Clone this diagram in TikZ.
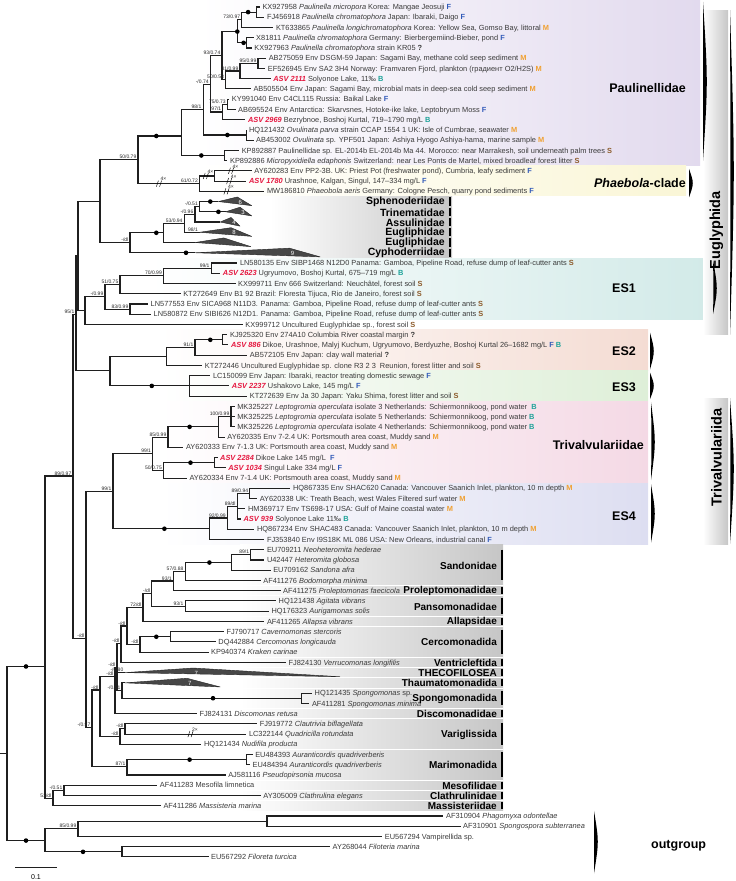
\documentclass[tikz,border=0pt]{standalone}
\usepackage{fontspec}
\setmainfont{Liberation Sans}
\definecolor{cF}{HTML}{3059B8}
\definecolor{cM}{HTML}{F0A030}
\definecolor{cB}{HTML}{1FA39A}
\definecolor{cS}{HTML}{8C5A2A}
\definecolor{asvc}{HTML}{E5173F}
\definecolor{paulbg}{HTML}{E2DAEE}
\definecolor{phaebg}{HTML}{FAF6D6}
\definecolor{es1bg}{HTML}{D2EAE8}
\definecolor{es2bg}{HTML}{F4DCD3}
\definecolor{es3bg}{HTML}{DEEFD8}
\definecolor{trivbg}{HTML}{F4D9E5}
\definecolor{es4bg}{HTML}{DDDEF1}
\definecolor{grayc}{HTML}{C6C6C6}
\definecolor{acc}{HTML}{3A3A3A}
\newcommand\hF{\textcolor{cF}{\textbf{F}}}
\newcommand\hM{\textcolor{cM}{\textbf{M}}}
\newcommand\hB{\textcolor{cB}{\textbf{B}}}
\newcommand\hS{\textcolor{cS}{\textbf{S}}}
\newcommand\hQ{\textbf{?}}
\newcommand\asv[1]{\textcolor{asvc}{\textbf{\textit{ASV #1}}}}
\newcommand\leaf[4]{\coordinate (l#1) at (#2,#3); \node[leaf] (t#1) at (#2+2.5,#3+0.26) {#4};}
\newcommand\inn[3]{\coordinate (#1) at (#2,#3);}
\newcommand\edg[2]{\draw[br] (#1) |- (#2);}
\newcommand\dt[3]{\node[dotn] (#1) at (#2,#3) {};}
\newcommand\bsl[2]{\path (#1) ++(-1.5,-0.07) node[bs] (b#1) {#2};}
\newcommand\wbar[5]{\fill[black] (#2,#3) .. controls (#2+5,#4) .. (#2,#5) .. controls (#2+0.6,#4) .. (#2,#3) -- cycle; \coordinate (#1) at (#2,#4);}
\newcommand\trifill[6]{\fill[tri] (#1) -- (#3,#2-0.45) -- (#4,#2+0.4) -- cycle; \node[trin] (n#1) at (#3+3,#2+0.05) {#5#6};}
\newcommand\brk[4]{\draw[line width=0.45pt] (#2-2.6,#3+0.3) -- (#2-0.6,#3-0.3) (#2+0.6,#3+0.3) -- (#2+2.6,#3-0.3); \node[bs,anchor=south west] (#1) at (#2+1.5,#3-0.25) {#4};}
\begin{document}
\begin{tikzpicture}[x=1pt,y=-10.24pt,
  br/.style={draw=black!88, line width=1.1pt},
  leaf/.style={anchor=base west, inner sep=0pt, font=\fontsize{7.4}{8}\selectfont, text=acc},
  bs/.style={anchor=south east, inner sep=0pt, font=\fontsize{5}{5}\selectfont, text=black!85},
  dotn/.style={circle, fill=black, inner sep=0pt, minimum size=4.6pt},
  tri/.style={fill=black!72, draw=black!85, line width=0.4pt, line join=round},
  trin/.style={text=white, font=\fontsize{6}{6}\selectfont, inner sep=0pt},
  grp/.style={anchor=east, inner sep=0pt, font=\fontsize{10}{11}\selectfont\bfseries},
  grpb/.style={anchor=east, inner sep=0pt, font=\fontsize{10.5}{11}\selectfont\bfseries},
  big/.style={inner sep=0pt, font=\fontsize{12.5}{13}\selectfont\bfseries},
  gbar/.style={line width=1.6pt},
  sep/.style={draw=white, line width=0.8pt}]
\useasboundingbox (0,0.3164) rectangle (735,86.35);
% ---------- backgrounds
\shade[left color=white,right color=paulbg] (200,0.32) rectangle (700,16.45);
\shade[left color=white,right color=phaebg] (200,16.5) rectangle (686,19.45);
\shade[left color=white,right color=grayc] (270,19.5) rectangle (452,25.5);
\shade[left color=white,right color=es1bg] (150,25.55) rectangle (711,31.5);
\shade[left color=white,right color=es2bg] (160,32.5) rectangle (648,36.45);
\shade[left color=white,right color=es3bg] (160,36.5) rectangle (648,39.45);
\shade[left color=white,right color=trivbg] (160,39.5) rectangle (648,47.45);
\shade[left color=white,right color=es4bg] (160,47.5) rectangle (648,53.45);
\shade[left color=white,right color=grayc] (240,53.5) rectangle (503,79.5);
\foreach \s in {57.5,58.5,60.5,61.5,64.5,65.5,66.5,67.5,69.5,70.5,73.5,76.5,77.5,78.5}{\draw[sep] (240,\s) -- (503,\s);}
\shade[left color=white,right color=grayc] (703,1.3) rectangle (728,33);
\shade[left color=white,right color=grayc] (703,39.2) rectangle (728,53.5);
% ---------- bars
\wbar{bPaul}{703}{0.5}{8.3}{16}
\wbar{bPhae}{689}{16.8}{18.2}{19.6}
\wbar{bEug}{730}{1.3}{17}{33}
\wbar{bES1}{713}{25.7}{28.5}{31}
\wbar{bES2}{650}{32.8}{34.6}{36.4}
\wbar{bES3}{650}{36.7}{38}{39.3}
\wbar{bTriv}{651}{39.6}{43.5}{47.2}
\wbar{bES4}{651}{47.6}{50.5}{53.3}
\wbar{bTrivida}{730}{39.2}{46}{53.4}
\wbar{bOut}{594}{79.5}{82.5}{85.6}
\foreach \r in {20,...,25}{\draw[gbar] (450,\r-0.4) -- (450,\r+0.4);}
\foreach \a/\b in {54/57,57.65/58.35,58.7/60.3,60.65/61.35,61.8/64.2,64.65/65.35,65.65/66.35,66.65/67.35,67.8/69.2,69.65/70.35,70.9/73.1,73.8/76.2,76.65/77.35,77.65/78.35,78.65/79.35}{\draw[gbar] (502,\a) -- (502,\b);}
% ---------- leaves
\leaf{1}{259.8}{1}{KX927958 \textit{Paulinella micropora} Korea: Mangae Jeosuji \hF}
\leaf{2}{264.3}{2}{FJ456918 \textit{Paulinella chromatophora} Japan: Ibaraki, Daigo \hF}
\leaf{3}{273.3}{3}{KT633865 \textit{Paulinella longichromatophora} Korea: Yellow Sea, Gomso Bay, littoral \hM}
\leaf{4}{253.5}{4}{X81811 \textit{Paulinella chromatophora} Germany: Bierbergemiind-Bieber, pond \hF}
\leaf{5}{251.7}{5}{KX927963 \textit{Paulinella chromatophora} strain KR05 \hQ}
\leaf{6}{266.1}{6}{AB275059 Env DSGM-59 Japan: Sagami Bay, methane cold seep sediment \hM}
\leaf{7}{265.2}{7}{EF526945 Env SA2 3H4 Norway: Framvaren Fjord, plankton (градиент O2/H2S) \hM}
\leaf{8}{270.6}{8}{\asv{2111} Solyonoe Lake, 11‰ \hB}
\leaf{9}{250.8}{9}{AB505504 Env Japan: Sagami Bay, microbial mats in deep-sea cold seep sediment \hM}
\leaf{10}{229.2}{10}{KY991040 Env C4CL115 Russia: Baikal Lake \hF}
\leaf{11}{235.5}{11}{AB695524 Env Antarctica: Skarvsnes, Hotoke-ike lake, Leptobryum Moss \hF}
\leaf{12}{245.4}{12}{\asv{2969} Bezrybnoe, Boshoj Kurtal, 719–1790 mg/L \hB}
\leaf{13}{246.3}{13}{HQ121432 \textit{Ovulinata parva} strain CCAP 1554 1 UK: Isle of Cumbrae, seawater \hM}
\leaf{14}{253.5}{14}{AB453002 \textit{Ovulinata} sp. YPF501 Japan: Ashiya Hyogo Ashiya-hama, marine sample \hM}
\leaf{15}{239.1}{15}{KP892887 Paulinellidae sp. EL-2014b EL-2014b Ma 44. Morocco: near Marrakesh, soil underneath palm trees \hS}
\leaf{16}{227.4}{16}{KP892886 \textit{Micropyxidiella edaphonis} Switzerland: near Les Ponts de Martel, mixed broadleaf forest litter \hS}
\leaf{17}{251.7}{17}{AY620283 Env PP2-3B. UK: Priest Pot (freshwater pond), Cumbria, leafy sediment \hF}
\leaf{18}{246.3}{18}{\asv{1780} Urashnoe, Kalgan, Singul, 147–334 mg/L \hF}
\leaf{19}{264.3}{19}{MW186810 \textit{Phaeobola aeris} Germany: Cologne Pesch, quarry pond sediments \hF}
\leaf{26}{237.3}{26}{LN580135 Env SIBP1468 N12D0 Panama: Gamboa, Pipeline Road, refuse dump of leaf-cutter ants \hS}
\leaf{27}{220.2}{27}{\asv{2623} Ugryumovo, Boshoj Kurtal, 675–719 mg/L \hB}
\leaf{28}{235.5}{28}{KX999711 Env 666 Switzerland: Neuchâtel, forest soil \hS}
\leaf{29}{180.6}{29}{KT272649 Env B1 92 Brazil: Floresta Tijuca, Rio de Janeiro, forest soil \hS}
\leaf{30}{148}{30}{LN577553 Env SICA968 N11D3. Panama: Gamboa, Pipeline Road, refuse dump of leaf-cutter ants \hS}
\leaf{31}{151}{31}{LN580872 Env SIBI626 N12D1. Panama: Gamboa, Pipeline Road, refuse dump of leaf-cutter ants \hS}
\leaf{32}{242.7}{32}{KX999712 Uncultured Euglyphidae sp., forest soil \hS}
\leaf{33}{227.4}{33}{KJ925320 Env 274A10 Columbia River coastal margin \hQ}
\leaf{34}{228.3}{34}{\asv{886} Dikoe, Urashnoe, Malyj Kuchum, Ugryumovo, Berdyuzhe, Boshoj Kurtal 26–1682 mg/L \hF\ \hB}
\leaf{35}{247.2}{35}{AB572105 Env Japan: clay wall material \hQ}
\leaf{36}{202.2}{36}{KT272446 Uncultured Euglyphidae sp. clone R3 2 3 \ Reunion, forest litter and soil \hS}
\leaf{37}{210.3}{37}{LC150099 Env Japan: Ibaraki, reactor treating domestic sewage \hF}
\leaf{38}{229.2}{38}{\asv{2237} Ushakovo Lake, 145 mg/L \hF}
\leaf{39}{247.2}{39}{KT272639 Env Ja 30 Japan: Yaku Shima, forest litter and soil \hS}
\leaf{40}{234.6}{40}{MK325227 \textit{Leptogromia operculata} isolate 3 Netherlands: Schiermonnikoog, pond water \ \hB}
\leaf{41}{234.6}{41}{MK325225 \textit{Leptogromia operculata} isolate 5 Netherlands: Schiermonnikoog, pond water \hB}
\leaf{42}{234.6}{42}{MK325226 \textit{Leptogromia operculata} isolate 4 Netherlands: Schiermonnikoog, pond water \hB}
\leaf{43}{224.7}{43}{AY620335 Env 7-2.4 UK: Portsmouth area coast, Muddy sand \hM}
\leaf{44}{183.3}{44}{AY620333 Env 7-1.3 UK: Portsmouth area coast, Muddy sand \hM}
\leaf{45}{217.5}{45}{\asv{2284} Dikoe Lake 145 mg/L \ \hF}
\leaf{46}{225.6}{46}{\asv{1034} Singul Lake 334 mg/L \hF}
\leaf{47}{186.9}{47}{AY620334 Env 7-1.4 UK: Portsmouth area coast, Muddy sand \hM}
\leaf{48}{290.4}{48}{HQ867335 Env SHAC620 Canada: Vancouver Saanich Inlet, plankton, 10 m depth \hM}
\leaf{49}{257.1}{49}{AY620338 UK: Treath Beach, west Wales Filtered surf water \hM}
\leaf{50}{245.4}{50}{HM369717 Env TS698-17 USA: Gulf of Maine coastal water \hM}
\leaf{51}{240.9}{51}{\asv{939} Solyonoe Lake 11‰ \hB}
\leaf{52}{254.4}{52}{HQ867234 Env SHAC483 Canada: Vancouver Saanich Inlet, plankton, 10 m depth \hM}
\leaf{53}{264.3}{53}{FJ353840 Env I9S18K ML 086 USA: New Orleans, industrial canal \hF}
\leaf{54}{264.3}{54}{EU709211 \textit{Neoheteromita hederae}}
\leaf{55}{264.3}{55}{U42447 \textit{Heteromita globosa}}
\leaf{56}{270.6}{56}{EU709162 \textit{Sandona afra}}
\leaf{57}{260.7}{57}{AF411276 \textit{Bodomorpha minima}}
\leaf{58}{280.5}{58}{AF411275 \textit{Proleptomonas faecicola}}
\leaf{59}{276}{59}{HQ121438 \textit{Agitata vibrans}}
\leaf{60}{268.8}{60}{HQ176323 \textit{Aurigamonas solis}}
\leaf{61}{264.3}{61}{AF411265 \textit{Allapsa vibrans}}
\leaf{62}{223.8}{62}{FJ790717 \textit{Cavernomonas stercoris}}
\leaf{63}{215.7}{63}{DQ442884 \textit{Cercomonas longicauda}}
\leaf{64}{208.5}{64}{KP940374 \textit{Kraken carinae}}
\leaf{65}{285.9}{65}{FJ824130 \textit{Verrucomonas longifilis}}
\leaf{68}{312}{68}{HQ121435 \textit{Spongomonas} sp.}
\leaf{69}{309.3}{69}{AF411281 \textit{Spongomonas minima}}
\leaf{70}{196.8}{70}{FJ824131 \textit{Discomonas retusa}}
\leaf{71}{257.1}{71}{FJ919772 \textit{Clautrivia biflagellata}}
\leaf{72}{246.3}{72}{LC322144 \textit{Quadricilla rotundata}}
\leaf{73}{201.3}{73}{HQ121434 \textit{Nudifila producta}}
\leaf{74}{252.6}{74}{EU484393 \textit{Auranticordis quadriverberis}}
\leaf{75}{249.9}{75}{EU484394 \textit{Auranticordis quadriverberis}}
\leaf{76}{225.6}{76}{AJ581116 \textit{Pseudopirsonia mucosa}}
\leaf{77}{157.2}{77}{AF411283 Mesofila limnetica}
\leaf{78}{260.7}{78}{AY305009 \textit{Clathrulina elegans}}
\leaf{79}{160.8}{79}{AF411286 \textit{Massisteria marina}}
\leaf{80}{443.4}{80}{AF310904 \textit{Phagomyxa odontellae}}
\leaf{81}{460.5}{81}{AF310901 \textit{Spongospora subterranea}}
\leaf{82}{382.2}{82}{EU567294 Vampirellida sp.}
\leaf{83}{330}{83}{AY268044 \textit{Filoteria marina}}
\leaf{84}{208.5}{84}{EU567292 \textit{Filoreta turcica}}
% ---------- internal nodes
\inn{rstub}{0}{73.9}\inn{root}{7}{73.9}
\inn{In}{45}{65.4}\inn{Out}{45}{82.4}
\inn{O1}{78}{81.25}\inn{O2}{122}{83.5}\inn{PS}{267}{80.5}
\inn{M}{53}{78.25}\inn{M1}{64}{77.5}
\inn{A}{73}{46.8}\inn{B}{86}{62.7}
\inn{T}{113}{48.3}\inn{T1}{152.7}{44.6}\inn{T2}{168}{43}\inn{T3}{163.5}{46.25}
\inn{LGa}{218.4}{42}\inn{LG}{231}{41}\inn{T3a}{214.8}{45.5}
\inn{E4a}{209.4}{51.95}\inn{E4c}{227.4}{50.9}\inn{E4d}{237.3}{49.75}\inn{E4e}{249.9}{48.5}
\inn{C}{92}{71.4}\inn{Ma}{127}{75.2}\inn{Au}{246.3}{74.5}
\inn{D}{100}{67.7}\inn{V}{120}{72.25}\inn{V1}{125}{71.5}
\inn{F}{115}{66.4}\inn{G}{117}{65.5}\inn{THa}{125}{66}\inn{TS}{122}{67.75}\inn{THu}{125}{67}\inn{Spn}{301.2}{68.5}
\inn{S8}{121}{63.2}\inn{S7}{127}{61.45}\inn{CercP}{140}{63.25}\inn{Cerc}{170.7}{62.5}
\inn{S6}{143}{59.65}\inn{S5}{151.8}{58.3}\inn{S4}{173.4}{57.05}\inn{S3}{185.1}{56.1}\inn{S2}{231.9}{55.25}\inn{S1}{250.8}{54.5}\inn{P1}{185.1}{59.5}
\inn{G4}{76}{31}\inn{G3}{78}{25.3}\inn{G2}{100}{19.95}\inn{ESA}{85}{30.6}
\inn{ES1e}{105}{29.3}\inn{ES1c}{120}{28.1}\inn{ES1d}{130}{30.5}\inn{ES1b}{163.5}{27.25}\inn{ES1a}{211.2}{26.5}
\inn{G1}{138}{15.9}\inn{NPaul}{181.5}{13.6}\inn{N98}{203.1}{11}\inn{KPg}{224.7}{15.5}
\inn{N074}{210.3}{8.6}\inn{Ovu}{246.3}{13.5}\inn{Pe}{222}{5.75}\inn{Baik2}{222.9}{11.25}\inn{Baik1}{227.4}{10.5}
\inn{Pd}{237.3}{3.4}\inn{Pb}{241.8}{2.25}\inn{Pa}{256.2}{1.5}\inn{Pc}{246.3}{4.5}
\inn{Seep3}{225.6}{8.1}\inn{Seep2}{240}{7.25}\inn{Seep1}{258}{6.5}
\inn{Ph2}{199.5}{18.25}\inn{Ph1}{214.8}{17.5}
\inn{Q5}{130}{24}\inn{Q4}{163.5}{23.05}\inn{Q3}{184.2}{22.1}\inn{Q2}{195}{21.25}\inn{Q1}{199.5}{20.5}
\inn{Sp}{218.4}{20}\inn{Tr}{225.6}{21}\inn{As}{220.2}{22}\inn{Eg1}{199.5}{23}\inn{Eg2}{195}{24}\inn{Cyp}{195}{25}
\inn{ES23}{110}{36.5}\inn{ES2c}{166.2}{35.1}\inn{ES2b}{195}{34.25}\inn{ES2a}{222.9}{33.5}\inn{ES3n}{189.6}{38}
% ---------- edges
\draw[br] (rstub) -- (root);
\edg{root}{In}\edg{root}{Out}
\edg{In}{A}\edg{In}{M}
\edg{Out}{O1}\edg{Out}{O2}
\edg{O1}{PS}\edg{O1}{l82}\edg{PS}{l80}\edg{PS}{l81}
\edg{O2}{l83}\edg{O2}{l84}
\edg{M}{M1}\edg{M}{l79}\edg{M1}{l77}\edg{M1}{l78}
\edg{A}{G4}\edg{A}{B}
\edg{B}{T}\edg{B}{C}
\edg{T}{T1}\edg{T}{E4a}
\edg{T1}{T2}\edg{T1}{T3}
\edg{T2}{LGa}\edg{T2}{l44}
\edg{LGa}{LG}\edg{LGa}{l43}
\edg{LG}{l40}\edg{LG}{l41}\edg{LG}{l42}
\edg{T3}{T3a}\edg{T3}{l47}\edg{T3a}{l45}\edg{T3a}{l46}
\edg{E4a}{E4c}\edg{E4a}{l53}
\edg{E4c}{E4d}\edg{E4c}{l52}
\edg{E4d}{E4e}\edg{E4d}{l50}\edg{E4d}{l51}
\edg{E4e}{l48}\edg{E4e}{l49}
\edg{C}{D}\edg{C}{Ma}
\edg{Ma}{Au}\edg{Ma}{l76}\edg{Au}{l74}\edg{Au}{l75}
\edg{D}{F}\edg{D}{V}
\edg{V}{V1}\edg{V}{l73}\edg{V1}{l71}\edg{V1}{l72}
\edg{F}{G}\edg{F}{l70}
\edg{G}{S8}\edg{G}{THa}\edg{G}{TS}
\edg{TS}{THu}\edg{TS}{Spn}\edg{Spn}{l68}\edg{Spn}{l69}
\edg{S8}{S7}\edg{S8}{l65}
\edg{S7}{S6}\edg{S7}{CercP}
\edg{CercP}{Cerc}\edg{CercP}{l64}\edg{Cerc}{l62}\edg{Cerc}{l63}
\edg{S6}{S5}\edg{S6}{l61}
\edg{S5}{S4}\edg{S5}{P1}
\edg{S4}{S3}\edg{S4}{l58}
\edg{S3}{S2}\edg{S3}{l57}
\edg{S2}{S1}\edg{S2}{l56}
\edg{S1}{l54}\edg{S1}{l55}
\edg{P1}{l59}\edg{P1}{l60}
\edg{G4}{G3}\edg{G4}{ES23}
\edg{G3}{G2}\edg{G3}{ESA}
\edg{ESA}{ES1e}\edg{ESA}{l32}
\edg{ES1e}{ES1c}\edg{ES1e}{ES1d}
\edg{ES1c}{ES1b}\edg{ES1c}{l29}
\edg{ES1b}{ES1a}\edg{ES1b}{l28}
\edg{ES1a}{l26}\edg{ES1a}{l27}
\edg{ES1d}{l30}\edg{ES1d}{l31}
\edg{G2}{G1}\edg{G2}{Q5}
\edg{G1}{NPaul}\edg{G1}{Ph2}
\edg{NPaul}{N98}\edg{NPaul}{KPg}
\edg{N98}{N074}\edg{N98}{Ovu}
\edg{N074}{Pe}\edg{N074}{Baik2}
\edg{Pe}{Pd}\edg{Pe}{Seep3}
\edg{Pd}{Pb}\edg{Pd}{Pc}
\edg{Pb}{Pa}\edg{Pb}{l3}\edg{Pa}{l1}\edg{Pa}{l2}
\edg{Pc}{l4}\edg{Pc}{l5}
\edg{Seep3}{Seep2}\edg{Seep3}{l9}
\edg{Seep2}{Seep1}\edg{Seep2}{l8}
\edg{Seep1}{l6}\edg{Seep1}{l7}
\edg{Baik2}{Baik1}\edg{Baik2}{l12}
\edg{Baik1}{l10}\edg{Baik1}{l11}
\edg{Ovu}{l13}\edg{Ovu}{l14}
\edg{KPg}{l15}\edg{KPg}{l16}
\edg{Ph2}{Ph1}\edg{Ph2}{l19}
\edg{Ph1}{l17}\edg{Ph1}{l18}
\edg{Q5}{Q4}\edg{Q5}{Cyp}
\edg{Q4}{Q3}\edg{Q4}{Eg2}
\edg{Q3}{Q2}\edg{Q3}{Eg1}
\edg{Q2}{Q1}\edg{Q2}{As}
\edg{Q1}{Sp}\edg{Q1}{Tr}
\edg{ES23}{ES2c}\edg{ES23}{ES3n}
\edg{ES2c}{ES2b}\edg{ES2c}{l36}
\edg{ES2b}{ES2a}\edg{ES2b}{l35}
\edg{ES2a}{l33}\edg{ES2a}{l34}
\edg{ES3n}{l37}\edg{ES3n}{l38}\edg{ES3n}{l39}
% ---------- collapsed clades
\trifill{Sp}{20}{237.3}{251.7}{}{6}
\trifill{Tr}{21}{240}{251.7}{}{3}
\trifill{As}{22}{231}{240}{}{4}
\trifill{Eg1}{23}{231}{251.7}{}{8}
\trifill{Eg2}{24}{223.8}{250.8}{}{}
\trifill{Cyp}{25}{289.5}{320.1}{}{9}
\trifill{THa}{66}{193.2}{339.9}{}{7}
\trifill{THu}{67}{186.9}{220.2}{}{7}
% ---------- breaks
\brk{k1}{159}{18.25}{4×}
\brk{k2}{205.8}{17.5}{4×}
\brk{k3}{231}{17}{4×}
\brk{k4}{229.2}{18}{4×}
\brk{k5}{226.5}{19}{4×}
\brk{k6}{190.5}{72}{2×}
% ---------- dots
\dt{d1}{26}{65.4}\dt{d2}{26}{82.4}\dt{d3}{83}{83.5}\dt{d4}{164.4}{51.95}
\dt{d5}{189.6}{42}\dt{d6}{190.5}{45.5}\dt{d7}{189.6}{74.5}\dt{d8}{213}{68.5}
\dt{d9}{156.3}{62.5}\dt{d10}{209.4}{55.25}\dt{d11}{156.3}{13.6}\dt{d12}{201.3}{15.5}
\dt{d13}{227.4}{13.5}\dt{d14}{237.3}{3.4}\dt{d15}{243.6}{4.5}\dt{d16}{248.1}{1.5}
\dt{d17}{210.3}{20}\dt{d18}{218.4}{21}\dt{d19}{156.3}{23.05}\dt{d20}{186}{25}
\dt{d21}{210.3}{33.5}\dt{d22}{151.8}{38}
% ---------- support values
\bsl{Pb}{73/0.97}\bsl{Pe}{93/0.74}\bsl{N074}{-/0.74}\bsl{Seep1}{95/0.99}
\bsl{Seep2}{81/0.99}\bsl{Seep3}{50/0.58}\bsl{Baik1}{75/0.73}\bsl{Baik2}{97/1}
\bsl{N98}{98/1}\bsl{G1}{50/0.79}\bsl{Ph2}{61/0.72}\bsl{Q1}{-/0.51}\bsl{Q2}{-/0.96}
\bsl{Q3}{53/0.94}\bsl{Eg1}{98/1}\bsl{ES1a}{99/1}\bsl{ES1b}{70/0.99}\bsl{ES1c}{51/0.75}
\bsl{ES1d}{83/0.99}\bsl{ES1e}{-/0.99}\bsl{Q5}{-/dl}\bsl{G4}{95/1}\bsl{ES2b}{91/1}
\bsl{LG}{100/0.99}\bsl{T2}{85/0.99}\bsl{T3}{50/0.75}\bsl{T1}{99/1}\bsl{T}{99/1}
\bsl{E4e}{89/0.94}\bsl{E4d}{89/dl}\bsl{E4c}{92/0.99}\bsl{A}{89/0.97}\bsl{B}{-/dl}
\bsl{C}{-/0.97}\bsl{Ma}{87/1}\bsl{S1}{89/1}\bsl{S3}{57/0.88}\bsl{S4}{93/1}\bsl{P1}{93/1}
\bsl{S5}{-/dl}\bsl{S6}{72/dl}\bsl{S7}{-/dl}\bsl{CercP}{-/dl}\bsl{S8}{-/dl}\bsl{G}{-/dl}
\bsl{THa}{-/0.80}\bsl{TS}{-/0.51}\bsl{F}{-/dl}\bsl{D}{-/dl}\bsl{V}{-/dl}\bsl{V1}{-/dl}
\bsl{M1}{-/0.51}\bsl{M}{51/dl}\bsl{O1}{85/0.99}
% ---------- group labels
\node[big,anchor=east] (gPaul) at (686,8.9) {Paulinellidae};
\node[big,anchor=east] (gPhae) at (686,18.2) {\textit{Phaebola}-clade};
\node[grpb] (gSph) at (445,20.05) {Sphenoderiidae};
\node[grpb] (gTri) at (445,21.05) {Trinematidae};
\node[grpb] (gAss) at (445,22.05) {Assulinidae};
\node[grpb] (gEu1) at (445,23.05) {Eugliphidae};
\node[grpb] (gEu2) at (445,24.05) {Eugliphidae};
\node[grpb] (gCyp) at (445,25.05) {Cyphoderriidae};
\node[big,anchor=west] (gES1) at (612,28.5) {ES1};
\node[big,anchor=west] (gES2) at (612,34.6) {ES2};
\node[big,anchor=west] (gES3) at (612,38.1) {ES3};
\node[big,anchor=east] (gTriv) at (644,43.8) {Trivalvulariidae};
\node[big,anchor=west] (gES4) at (612,50.7) {ES4};
\node[big,rotate=90,font=\fontsize{14.5}{15}\selectfont\bfseries] (gEug) at (716.5,22.8) {Euglyphida};
\node[big,rotate=90,font=\fontsize{14.5}{15}\selectfont\bfseries] (gTrd) at (716.5,45) {Trivalvulariida};
\node[grp] (h1) at (497,55.6) {Sandonidae};
\node[grp] (h2) at (497,58.05) {Proleptomonadidae};
\node[grp] (h3) at (497,59.55) {Pansomonadidae};
\node[grp] (h4) at (497,61.05) {Allapsidae};
\node[grp] (h5) at (497,63.05) {Cercomonadida};
\node[grp] (h6) at (497,65.05) {Ventricleftida};
\node[grp] (h7) at (497,66.05) {THECOFILOSEA};
\node[grp] (h8) at (497,67.05) {Thaumatomonadida};
\node[grp] (h9) at (497,68.55) {Spongomonadida};
\node[grp] (h10) at (497,70.05) {Discomonadidae};
\node[grp] (h11) at (497,72.05) {Variglissida};
\node[grp] (h12) at (497,75.05) {Marimonadida};
\node[grp] (h13) at (497,77.05) {Mesofilidae};
\node[grp] (h14) at (497,78.05) {Clathrulinidae};
\node[grp] (h15) at (497,79.05) {Massisteriidae};
\node[big,anchor=west,font=\fontsize{12.5}{13}\selectfont\bfseries] (gOut) at (651,82.9) {outgroup};
% ---------- scale bar
\coordinate (sb1) at (15,85);\coordinate (sb2) at (57,85);
\draw[br,line width=0.9pt] (sb1) -- (sb2);
\node[inner sep=0pt,font=\fontsize{7}{7}\selectfont] (sbl) at (36,85.95) {0.1};
\end{tikzpicture}
\end{document}
